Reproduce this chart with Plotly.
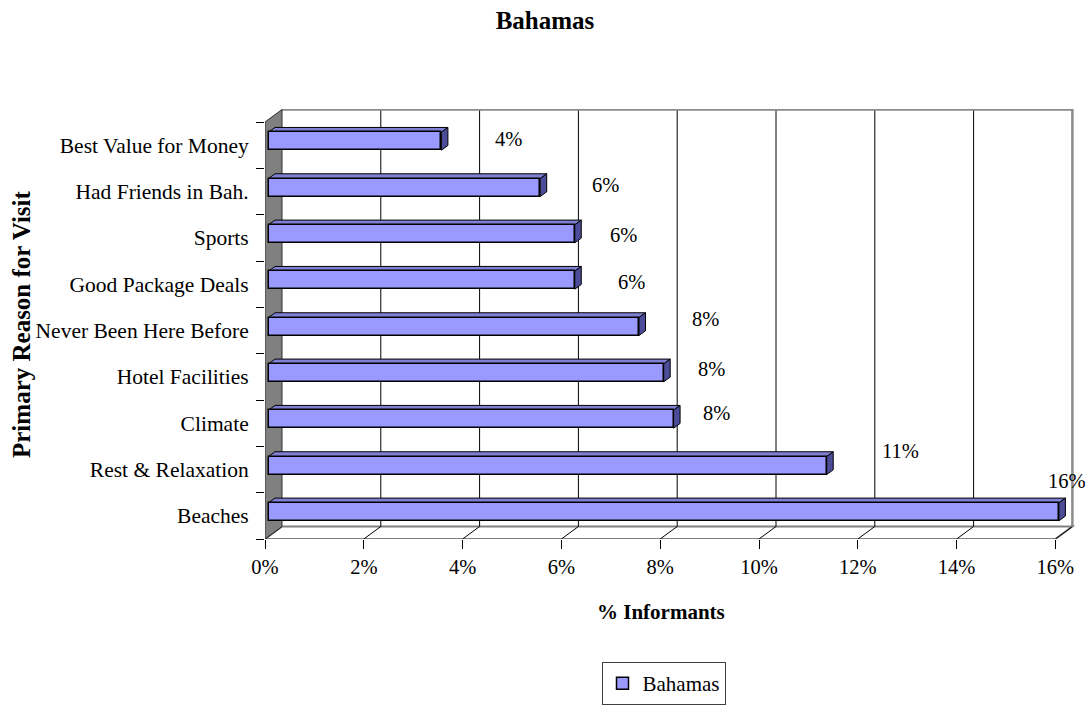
import plotly.graph_objects as go

# ---------------- data ----------------
categories = ["Beaches", "Rest & Relaxation", "Climate", "Hotel Facilities",
              "Never Been Here Before", "Good Package Deals", "Sports",
              "Had Friends in Bah.", "Best Value for Money"]
values = [16.0, 11.3, 8.2, 8.0, 7.5, 6.2, 6.2, 5.5, 3.5]
value_labels = ["16%", "11%", "8%", "8%", "8%", "6%", "6%", "6%", "4%"]
x_ticks = [0, 2, 4, 6, 8, 10, 12, 14, 16]
x_tick_labels = ["0%", "2%", "4%", "6%", "8%", "10%", "12%", "14%", "16%"]
series_name = "Bahamas"

# label placement (pixel shifts, layout only)
label_xshift = [12, 77, 46, 51, 70, 60, 52, 69, 71]
label_yshift = [35, 19, 10, 8, 11.5, 2, 3, 6.5, 6.5]

# ---------------- layout constants ----------------
W, H = 1090, 707
ML, MR, MT, MB = 265, 15, 109, 168
PW, PH = W - ML - MR, H - MT - MB
KX = 49.4            # px per % unit
KY = 46.33           # px per category
XMAX = PW / KX
YMIN = -0.5
YMAX = YMIN + PH / KY

DXu, DYu = 17 / KX, 12.5 / KY       # wall depth
FXu, FYu = 3.5 / KX, 4.0 / KY       # bar front offset
BDXu, BDYu = 6.5 / KX, 4.75 / KY    # bar depth
BH = 18 / KY                        # bar thickness
XEND = x_ticks[-1]
YTOP = len(categories) - 0.5

FONT = "Liberation Serif"
fig = go.Figure()

n = len(categories)
pos = list(range(n))

fig.add_trace(go.Bar(
    y=[p + FYu for p in pos], x=values, base=FXu, orientation="h", width=BH,
    marker=dict(color="#9999FF", line=dict(color="black", width=1.5)),
    name=series_name, showlegend=True, hoverinfo="skip"))

shapes = []
# floor
shapes.append(dict(type="path", xref="x", yref="y", layer="below",
                   path=f"M0,{YMIN} L{XEND},{YMIN} L{XEND+DXu},{YMIN+DYu} L{DXu},{YMIN+DYu} Z",
                   fillcolor="white", line=dict(color="#808080", width=2)))
# floor diagonals and back gridlines
for t in x_ticks:
    shapes.append(dict(type="line", xref="x", yref="y", layer="below",
                       x0=t, y0=YMIN, x1=t + DXu, y1=YMIN + DYu,
                       line=dict(color="black", width=1)))
    if 0 < t < XEND:
        shapes.append(dict(type="line", xref="x", yref="y", layer="below",
                           x0=t + DXu, y0=YMIN + DYu, x1=t + DXu, y1=YTOP + DYu,
                           line=dict(color="black", width=1)))
# back wall border (top and right)
shapes.append(dict(type="path", xref="x", yref="y", layer="below",
                   path=f"M{DXu},{YTOP+DYu} L{XEND+DXu},{YTOP+DYu} L{XEND+DXu},{YMIN+DYu}",
                   line=dict(color="#8C8C8C", width=2.5)))
# left wall
shapes.append(dict(type="path", xref="x", yref="y", layer="below",
                   path=f"M0,{YMIN} L0,{YTOP} L{DXu},{YTOP+DYu} L{DXu},{YMIN+DYu} Z",
                   fillcolor="#808080", line=dict(color="#303030", width=1)))
# bar depth faces
for p, v in zip(pos, values):
    x0, x1 = FXu, FXu + v
    yt = p + FYu + BH / 2
    yb = p + FYu - BH / 2
    shapes.append(dict(type="path", xref="x", yref="y", layer="below",
                       path=f"M{x0},{yt} L{x1},{yt} L{x1+BDXu},{yt+BDYu} L{x0+BDXu},{yt+BDYu} Z",
                       fillcolor="#7F7FD4", line=dict(color="black", width=1)))
    shapes.append(dict(type="path", xref="x", yref="y", layer="below",
                       path=f"M{x1},{yb} L{x1+BDXu},{yb+BDYu} L{x1+BDXu},{yt+BDYu} L{x1},{yt} Z",
                       fillcolor="#4C4C99", line=dict(color="black", width=1)))

annotations = []
for p, v, lab, dx, dy in zip(pos, values, value_labels, label_xshift, label_yshift):
    annotations.append(dict(x=v, y=p, xref="x", yref="y", text=lab, showarrow=False,
                            xanchor="center", yanchor="middle", xshift=dx, yshift=dy,
                            font=dict(family=FONT, size=20.5, color="black")))
# axis titles
annotations.append(dict(x=(661 - ML) / PW, y=(H - MB - 612) / PH, xref="paper", yref="paper",
                        text="<b>% Informants</b>", showarrow=False, xanchor="center",
                        yanchor="middle", font=dict(family=FONT, size=21, color="black")))
annotations.append(dict(x=(21 - ML) / PW, y=(H - MB - 324) / PH, xref="paper", yref="paper",
                        text="<b>Primary Reason for Visit</b>", showarrow=False, textangle=-90,
                        xanchor="center", yanchor="middle",
                        font=dict(family=FONT, size=25, color="black")))

fig.update_layout(
    width=W, height=H, margin=dict(l=ML, r=MR, t=MT, b=MB, autoexpand=False),
    paper_bgcolor="white", plot_bgcolor="white",
    title=dict(text="<b>Bahamas</b>", x=545 / W, xref="container", xanchor="center",
               y=1 - 20 / H, yref="container", yanchor="middle",
               font=dict(family=FONT, size=25, color="black")),
    xaxis=dict(range=[0, XMAX], tickvals=x_ticks, ticktext=x_tick_labels,
               ticks="outside", ticklen=9, tickcolor="black", tickwidth=1,
               showgrid=False, zeroline=False, showline=False,
               tickfont=dict(family=FONT, size=20.5, color="black")),
    yaxis=dict(range=[YMIN, YMAX], tickvals=pos, ticktext=categories,
               ticks="outside", ticklen=11, tickcolor="rgba(0,0,0,0)",
               minor=dict(tickvals=[p - 0.5 for p in range(n + 1)], ticks="outside",
                          ticklen=8, tickcolor="black", tickwidth=1),
               showgrid=False, zeroline=False, showline=False,
               tickfont=dict(family=FONT, size=21.5, color="black")),
    legend=dict(x=(663.5 - ML) / PW, xanchor="center", y=(H - MB - 705) / PH, yanchor="bottom",
                bordercolor="#404040", borderwidth=1, bgcolor="white",
                font=dict(family=FONT, size=21, color="black")),
    shapes=shapes, annotations=annotations, bargap=0,
)

fig.write_html("out.html", config={"displayModeBar": False},
               post_script="document.body.style.margin='0';document.body.style.overflow='hidden';")
